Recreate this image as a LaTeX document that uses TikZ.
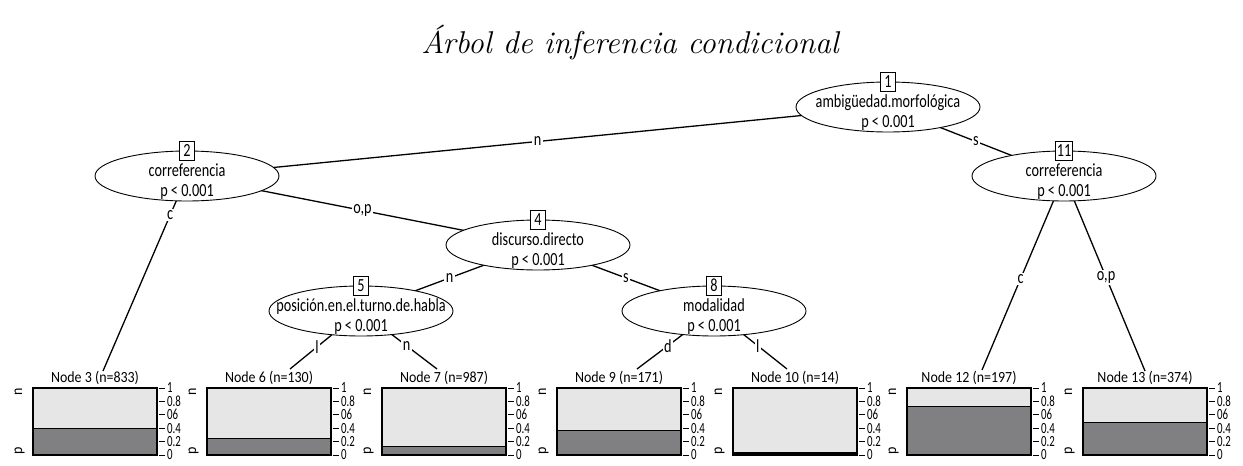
\documentclass[tikz,border=0pt]{standalone}
\usepackage{fontspec}
\newfontfamily\cond[FakeStretch=0.77]{Carlito}
\newfontfamily\condsmall[FakeStretch=0.9]{Carlito}
\newfontfamily\condtick[FakeStretch=0.7]{Carlito}
\usetikzlibrary{shapes.geometric,backgrounds}
\definecolor{lightbar}{RGB}{230,230,230}
\definecolor{darkbar}{RGB}{128,128,130}
\newcommand{\zbox}[1]{\smash{\makebox[0pt]{\begin{tabular}[t]{@{}c@{}}#1\end{tabular}}}}
\begin{document}
\begin{tikzpicture}[x=1pt,y=-1pt,
  innerfont/.style={font=\cond\fontsize{18.5}{20}\selectfont},
  smallfont/.style={font=\condsmall\fontsize{15.5}{17}\selectfont},
  tickfont/.style={font=\condtick\fontsize{15.5}{17}\selectfont},
  inode/.style={ellipse, draw, fill=white, line width=0.9pt, minimum width=184pt, minimum height=50pt, inner sep=0pt, innerfont},
  idbox/.style={draw, fill=white, line width=0.9pt, minimum width=15pt, minimum height=19pt, inner sep=1.5pt, innerfont},
  edge/.style={line width=1.3pt},
  elabel/.style={fill=white, inner sep=1.5pt, innerfont},
  ttitle/.style={smallfont, anchor=base, inner sep=0pt},
  ticklab/.style={tickfont, anchor=west, inner sep=0pt},
  sidelab/.style={smallfont, rotate=90, anchor=base, inner sep=0pt},
  panel/.style={line width=1.1pt}
]
\useasboundingbox (0,0) rectangle (1243,466);

\node[anchor=base, font=\fontsize{31.5}{36}\selectfont\itshape] (title) at (630,53) {Árbol de inferencia condicional};

% inner nodes
\node[inode] (n1) at (888,107) {\zbox{ambigüedad.morfológica\\p < 0.001}};
\node[inode] (n2) at (187,176) {\zbox{correferencia\\p < 0.001}};
\node[inode] (n4) at (538,245) {\zbox{discurso.directo\\p < 0.001}};
\node[inode] (n5) at (361,311) {\zbox{posición.en.el.turno.de.habla\\p < 0.001}};
\node[inode] (n8) at (714,311) {\zbox{modalidad\\p < 0.001}};
\node[inode] (n11) at (1064,176) {\zbox{correferencia\\p < 0.001}};

\node[idbox] (b1) at (n1.north) {1};
\node[idbox] (b2) at (n2.north) {2};
\node[idbox] (b4) at (n4.north) {4};
\node[idbox] (b5) at (n5.north) {5};
\node[idbox] (b8) at (n8.north) {8};
\node[idbox] (b11) at (n11.north) {11};

% terminal panels
\foreach \i/\L/\t/\f in {3/33/833/0.40, 6/207/130/0.24, 7/382/987/0.13, 9/557/171/0.36, 10/733/14/0.03, 12/907/197/0.73, 13/1083/374/0.48}{
  \node[ttitle] (t\i) at (\L+62,382) {Node \i\ (n=\t)};
  \fill[lightbar] (\L,388) rectangle (\L+124,455);
  \fill[darkbar] (\L,455) rectangle (\L+124,455-67*\f);
  \draw[panel] (\L,455-67*\f) -- (\L+124,455-67*\f);
  \draw[panel] (\L,388) rectangle (\L+124,455);
  \node[sidelab] (sn\i) at (\L-11,391.5) {n};
  \node[sidelab] (sp\i) at (\L-11,450.5) {p};
  \foreach \v/\s in {0/0, 0.2/0.2, 0.4/0.4, 0.6/06, 0.8/0.8, 1/1}{
    \draw[line width=0.8pt] (\L+126,455-67*\v) -- (\L+132,455-67*\v);
    \node[ticklab] at (\L+134,455-67*\v) {\s};
  }
}

\coordinate (e3) at (103,371);
\coordinate (e6) at (290,369);
\coordinate (e7) at (437,369);
\coordinate (e9) at (637,369);
\coordinate (e10) at (787,369);
\coordinate (e12) at (982,370);
\coordinate (e13) at (1145,371);

\begin{pgfonlayer}{background}
\draw[edge] (n1.center) -- (n2.center) node[elabel, pos=0.5] {n};
\draw[edge] (n1.center) -- (n11.center) node[elabel, pos=0.5] {s};
\draw[edge] (n2.center) -- (e3) node[elabel, pos=0.2] {c};
\draw[edge] (n2.center) -- (n4.center) node[elabel, pos=0.5] {o,p};
\draw[edge] (n4.center) -- (n5.center) node[elabel, pos=0.5] {n};
\draw[edge] (n4.center) -- (n8.center) node[elabel, pos=0.5] {s};
\draw[edge] (n5.center) -- (e6) node[elabel, pos=0.62] {l};
\draw[edge] (n5.center) -- (e7) node[elabel, pos=0.6] {n};
\draw[edge] (n8.center) -- (e9) node[elabel, pos=0.6] {d};
\draw[edge] (n8.center) -- (e10) node[elabel, pos=0.6] {l};
\draw[edge] (n11.center) -- (e12) node[elabel, pos=0.53] {c};
\draw[edge] (n11.center) -- (e13) node[elabel, pos=0.52] {o,p};
\end{pgfonlayer}
\end{tikzpicture}
\end{document}
